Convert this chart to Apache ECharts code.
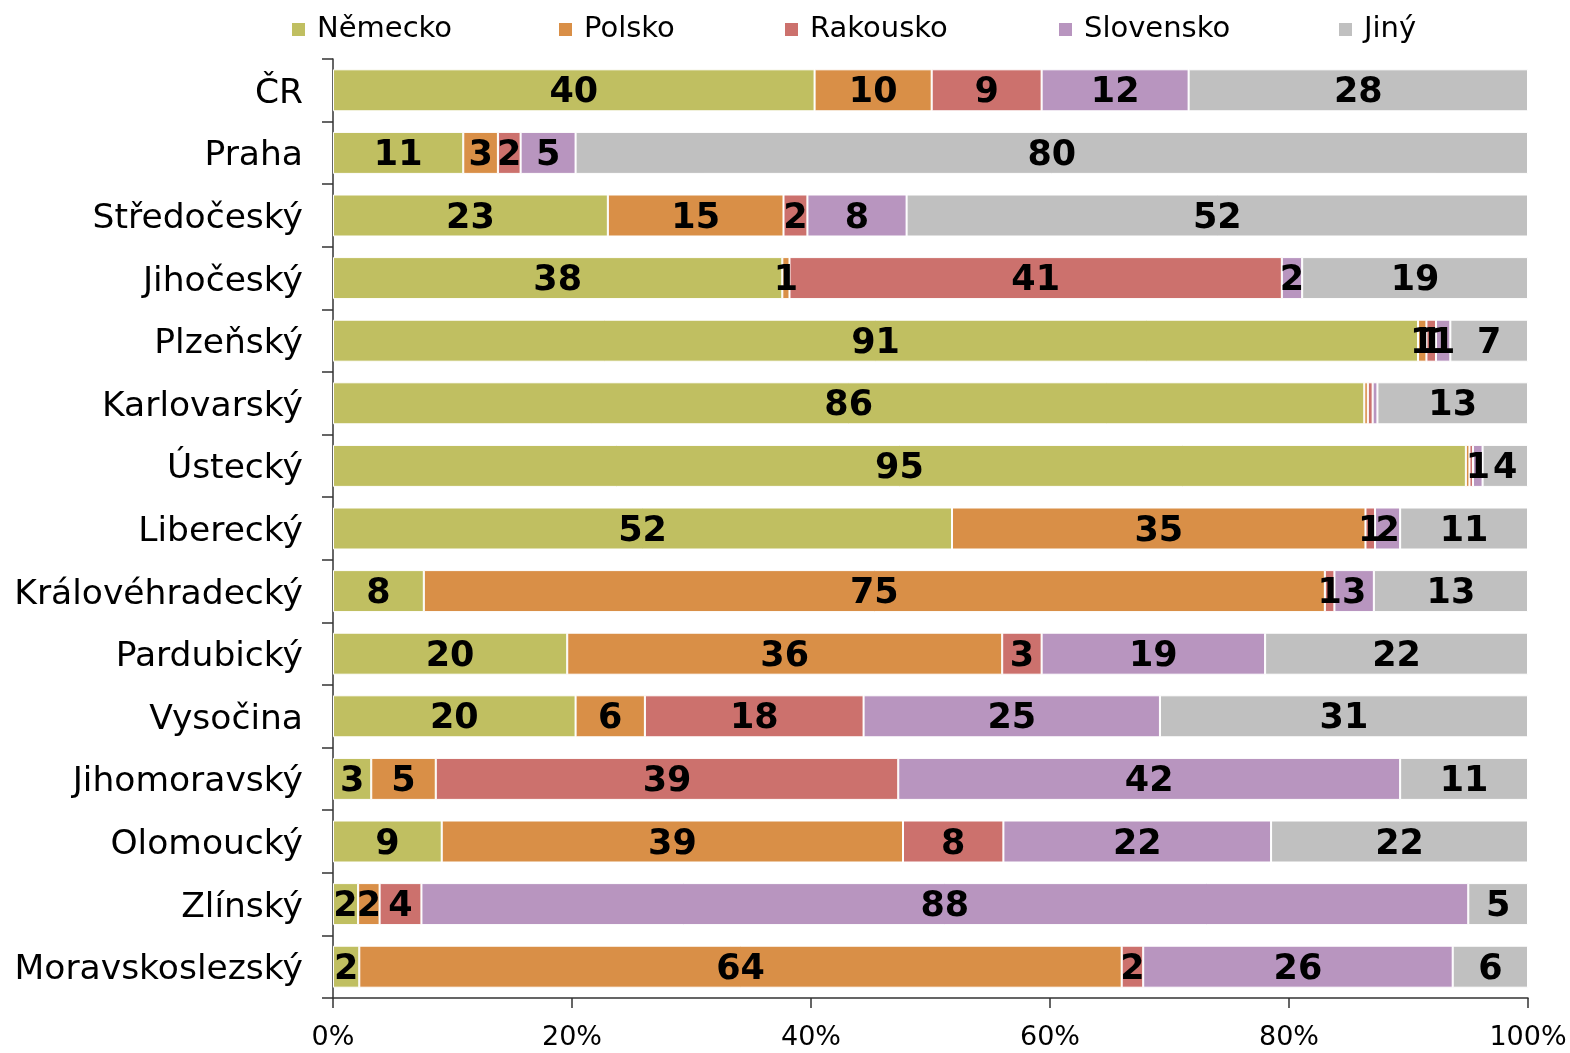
<!DOCTYPE html>
<html>
<head>
<meta charset="utf-8">
<script src="https://cdn.jsdelivr.net/npm/echarts@6/dist/echarts.min.js"></script>
<style>
  html, body { margin: 0; padding: 0; background: #fff; }
  #main { width: 1570px; height: 1053px; }
</style>
</head>
<body>
<div id="main"></div>
<script>
// kraje (shora dolů)
const regions = ['ČR', 'Praha', 'Středočeský', 'Jihočeský', 'Plzeňský', 'Karlovarský', 'Ústecký',
  'Liberecký', 'Královéhradecký', 'Pardubický', 'Vysočina', 'Jihomoravský', 'Olomoucký', 'Zlínský', 'Moravskoslezský'];

// podíly v %
const nemecko    = [40.3, 10.9, 23.0, 37.6, 90.8, 86.3, 94.8, 51.8,  7.6, 19.6, 20.3,  3.2,  9.1,  2.1,  2.2];
const polsko     = [ 9.8,  2.9, 14.7,  0.6,  0.7,  0.3,  0.3, 34.6, 75.4, 36.4,  5.8,  5.4, 38.6,  1.8, 63.8];
const rakousko   = [ 9.2,  1.9,  2.0, 41.2,  0.8,  0.4,  0.3,  0.8,  0.8,  3.3, 18.3, 38.7,  8.4,  3.5,  1.8];
const slovensko  = [12.3,  4.6,  8.3,  1.7,  1.2,  0.4,  0.8,  2.1,  3.3, 18.7, 24.8, 42.0, 22.4, 87.6, 25.9];
const jiny       = [28.4, 79.7, 52.0, 18.9,  6.5, 12.6,  3.8, 10.7, 12.9, 22.0, 30.8, 10.7, 21.5,  5.0,  6.3];

const names = ['Německo', 'Polsko', 'Rakousko', 'Slovensko', 'Jiný'];
const colors = ['#C0BF61', '#D98F47', '#CC716D', '#B895BF', '#C0C0C0'];
const legendLeft = [285, 552, 778, 1052, 1332];

const allData = [nemecko, polsko, rakousko, slovensko, jiny];

let myChart = echarts.init(document.getElementById('main'));

let options = {
  animation: false,
  textStyle: { fontFamily: 'DejaVu Sans' },
  legend: names.map((n, i) => ({
    data: [n],
    left: legendLeft[i],
    top: 10,
    icon: 'rect',
    itemWidth: 15,
    itemHeight: 15,
    textStyle: { fontSize: 29, color: '#000', padding: [0, 0, 0, 6] }
  })),
  grid: { left: 333, right: 42, top: 59, bottom: 55 },
  xAxis: {
    type: 'value',
    min: 0,
    max: 100,
    interval: 20,
    axisLine: { show: true, lineStyle: { color: '#333', width: 1.5 } },
    axisTick: { show: true, length: 10, lineStyle: { color: '#333', width: 1.5 } },
    splitLine: { show: false },
    axisLabel: { formatter: '{value}%', fontSize: 27, color: '#000', margin: 26 }
  },
  yAxis: {
    type: 'category',
    inverse: true,
    data: regions,
    axisLine: { show: true, lineStyle: { color: '#333', width: 1.5 } },
    axisTick: { show: true, length: 11, lineStyle: { color: '#333', width: 1.5 } },
    axisLabel: {
      color: '#000',
      margin: 30,
      formatter: v => '{a|' + v + '}',
      rich: { a: { fontSize: 34.5, color: '#000', fontFamily: 'DejaVu Sans', padding: [7, 0, 0, 0] } }
    }
  },
  series: names.map((n, i) => ({
    name: n,
    type: 'bar',
    stack: 'total',
    barWidth: 42,
    data: allData[i],
    itemStyle: { color: colors[i], borderColor: '#fff', borderWidth: 1 },
    label: {
      show: true,
      position: 'inside',
      offset: [0, 3],
      color: '#000',
      fontSize: 35,
      fontWeight: 'bold',
      formatter: p => {
        const v = Math.round(p.value);
        return v > 0 ? String(v) : '';
      }
    }
  }))
};

myChart.setOption(options, true);
</script>
</body>
</html>
